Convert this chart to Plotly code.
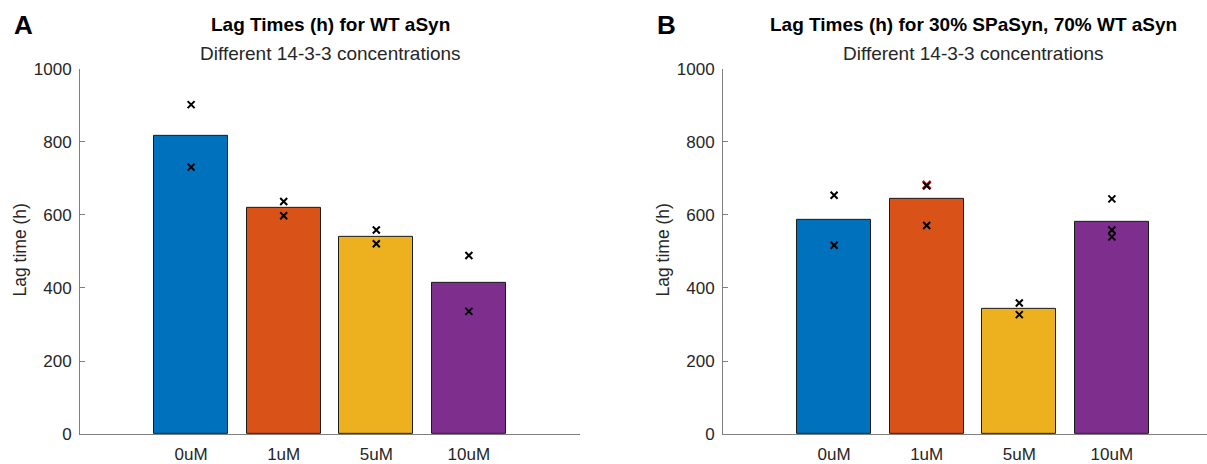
import plotly.graph_objects as go

# Concentrations of 14-3-3 (category labels)
concentrations = ["0uM", "1uM", "5uM", "10uM"]
bar_colors = ["#0072BD", "#D95319", "#EDB120", "#7E2F8E"]

# Panel A: WT aSyn — mean lag times and individual replicates
wt_mean = [816, 619, 541, 413]
wt_rep_x = [0, 0, 1, 1, 2, 2, 3, 3]
wt_rep_y = [902, 731, 637, 598, 559, 521, 489, 336]

# Panel B: 30% SPaSyn, 70% WT aSyn — mean lag times and replicates
mix_mean = [586, 644, 343, 581]
mix_rep_x = [0, 0, 1, 1, 2, 2, 3, 3, 3]
mix_rep_y = [654, 517, 680, 571, 359, 327, 644, 559, 540]
# highlighted replicate (drawn in red beneath a black marker)
mix_flag_x = [1]
mix_flag_y = [682]

FONT = "Liberation Sans, Arial, Helvetica, sans-serif"
AXIS_GRAY = "#7f7f7f"
TEXT = "#262626"

W, H = 1207, 464


def vy(y):
    # vertical pixel position (from top) used for layout placement
    return (y - 7.7) / 0.9667


fig = go.Figure()

positions = list(range(len(concentrations)))

fig.add_trace(go.Bar(x=positions, y=wt_mean, width=0.8,
                     marker=dict(color=bar_colors, line=dict(color="#1a1a1a", width=1)),
                     xaxis="x", yaxis="y", showlegend=False))
fig.add_trace(go.Scatter(x=wt_rep_x, y=wt_rep_y, mode="markers",
                         marker=dict(symbol="x-thin", size=7, line=dict(color="black", width=2)),
                         xaxis="x", yaxis="y", showlegend=False))

fig.add_trace(go.Bar(x=positions, y=mix_mean, width=0.8,
                     marker=dict(color=bar_colors, line=dict(color="#1a1a1a", width=1)),
                     xaxis="x2", yaxis="y2", showlegend=False))
fig.add_trace(go.Scatter(x=mix_flag_x, y=mix_flag_y, mode="markers",
                         marker=dict(symbol="x-thin", size=8, line=dict(color="red", width=2.5)),
                         xaxis="x2", yaxis="y2", showlegend=False))
fig.add_trace(go.Scatter(x=mix_rep_x, y=mix_rep_y, mode="markers",
                         marker=dict(symbol="x-thin", size=7, line=dict(color="black", width=2)),
                         xaxis="x2", yaxis="y2", showlegend=False))

px_unit = 500 / 5.4

xcommon = dict(tickmode="array", tickvals=positions, ticktext=concentrations,
               showline=True, linecolor=AXIS_GRAY, linewidth=1, ticks="",
               showgrid=False, zeroline=False, fixedrange=True,
               tickfont=dict(family=FONT, size=17, color=TEXT), ticklabelstandoff=5)
ycommon = dict(range=[0, 1000], tickvals=[0, 200, 400, 600, 800, 1000],
               showline=True, linecolor=AXIS_GRAY, linewidth=1,
               ticks="inside", ticklen=5, tickcolor=AXIS_GRAY, tickwidth=1,
               showgrid=False, zeroline=False,
               tickfont=dict(family=FONT, size=17, color=TEXT), ticklabelstandoff=4)

yd = [1 - vy(443) / H, 1 - vy(69) / H]
fig.update_layout(
    width=W, height=H, margin=dict(l=0, r=0, t=0, b=0),
    paper_bgcolor="white", plot_bgcolor="white",
    bargap=0,
    xaxis=dict(domain=[80 / W, 580 / W], range=[-1.2, 4.2], anchor="y", **xcommon),
    yaxis=dict(domain=yd, anchor="x", **ycommon),
    xaxis2=dict(domain=[723 / W, 1.0], range=[-1.2, -1.2 + (W - 723) / px_unit], anchor="y2", **xcommon),
    yaxis2=dict(domain=yd, anchor="x2", **ycommon),
)

ann = []


def add_text(x, y, text, size, bold=False, angle=0, color="black"):
    ann.append(dict(x=x / W, y=1 - vy(y) / H, xref="paper", yref="paper",
                    text=f"<b>{text}</b>" if bold else text,
                    showarrow=False, xanchor="center", yanchor="middle", textangle=angle,
                    font=dict(family=FONT, size=size, color=color)))


add_text(23, 24, "A", 26, bold=True)
add_text(666, 24, "B", 26, bold=True)
add_text(330, 24, "Lag Times (h) for WT aSyn", 19, bold=True)
add_text(330, 53, "Different 14-3-3 concentrations", 19, color=TEXT)
add_text(973, 24, "Lag Times (h) for 30% SPaSyn, 70% WT aSyn", 19, bold=True)
add_text(973, 53, "Different 14-3-3 concentrations", 19, color=TEXT)
add_text(20, 255, "Lag time (h)", 17.5, angle=-90, color=TEXT)
add_text(663, 255, "Lag time (h)", 17.5, angle=-90, color=TEXT)
fig.update_layout(annotations=ann)

fig.write_html("out.html")
